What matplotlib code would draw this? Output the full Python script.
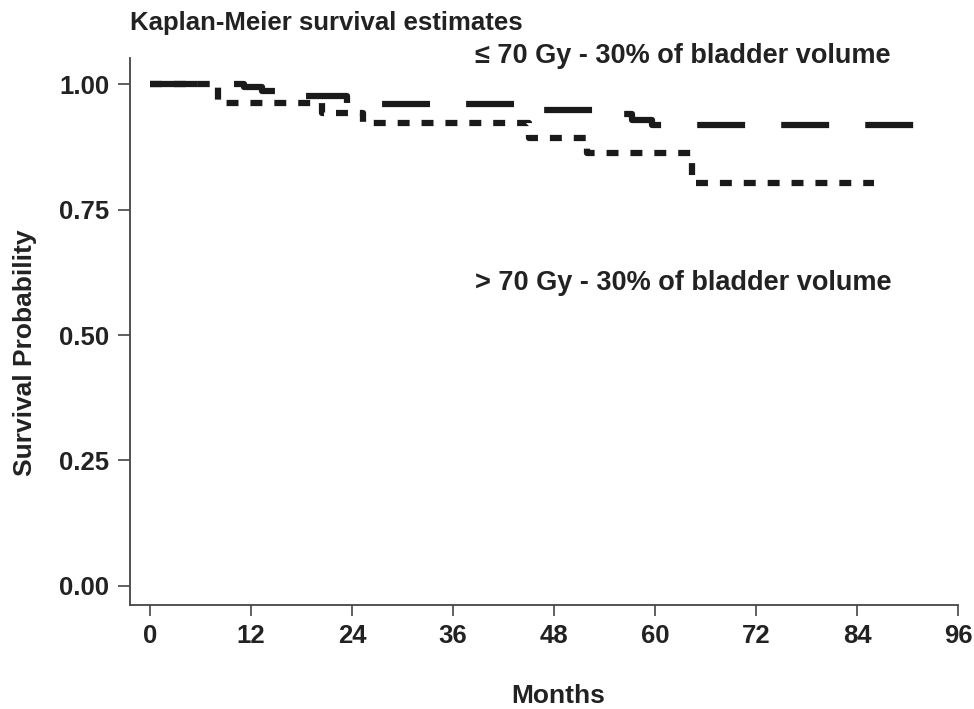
import matplotlib
matplotlib.use('Agg')
import matplotlib.pyplot as plt

# Kaplan-Meier step curves (months, survival)
low_t = [0, 11.1, 13.3, 16.0, 23.4, 45.0, 56.0, 57.3, 59.6, 91.0]
low_s = [1.0, 0.994, 0.987, 0.977, 0.960, 0.948, 0.941, 0.928, 0.918, 0.918]
high_t = [0, 8.1, 20.4, 25.3, 45.0, 51.9, 64.4, 86.0]
high_s = [1.0, 0.963, 0.942, 0.923, 0.8925, 0.863, 0.802, 0.802]

x_ticks = [0, 12, 24, 36, 48, 60, 72, 84, 96]
y_ticks = [0.0, 0.25, 0.5, 0.75, 1.0]

title = 'Kaplan-Meier survival estimates'
label_low = '\u2264 70 Gy - 30% of bladder volume'
label_high = '> 70 Gy - 30% of bladder volume'

plt.rcParams['font.family'] = ['Liberation Sans', 'DejaVu Sans']
plt.rcParams['font.weight'] = 'bold'
plt.rcParams['lines.scale_dashes'] = False
txt = '#222222'

fig = plt.figure(figsize=(9.74, 7.09), dpi=100, facecolor='white')
ax = fig.add_axes([130 / 974, 1 - 605 / 709, (958 - 130) / 974, (605 - 58) / 709])

ax.plot(low_t, low_s, drawstyle='steps-post', color='#1a1a1a', lw=4.5,
        dashes=(34.5, 26), solid_capstyle='butt', dash_capstyle='butt')
ax.plot(high_t, high_s, drawstyle='steps-post', color='#1a1a1a', lw=4.5,
        dashes=(8.6, 8.6), solid_capstyle='butt', dash_capstyle='butt')

ax.set_xlim(-2.4, 96)
ax.set_ylim(-0.038, 1.052)
ax.set_xticks(x_ticks)
ax.set_yticks(y_ticks)
ax.set_xticklabels([str(v) for v in x_ticks])
ax.set_yticklabels(['%.2f' % v for v in y_ticks])
ax.tick_params(axis='y', length=9, width=1.2, pad=6, labelsize=18.5, colors='#444444', labelcolor=txt)
ax.tick_params(axis='x', length=8, width=1.2, pad=6, labelsize=18.5, colors='#444444', labelcolor=txt)
for s in ['top', 'right']:
    ax.spines[s].set_visible(False)
for s in ['left', 'bottom']:
    ax.spines[s].set_color('#444444')
    ax.spines[s].set_linewidth(1.3)

fig.text(130 / 974, 1 - 30 / 709, title, fontsize=18.5, fontweight='bold', color=txt, va='baseline')
fig.text(475 / 974, 1 - 63 / 709, label_low, fontsize=19.5, fontweight='bold', color=txt, va='baseline')
fig.text(475 / 974, 1 - 290 / 709, label_high, fontsize=19.5, fontweight='bold', color=txt, va='baseline')
fig.text(558 / 974, 1 - 703 / 709, 'Months', fontsize=19, fontweight='bold', color=txt,
         ha='center', va='baseline')
fig.text(25 / 974, 1 - 353 / 709, 'Survival Probability', fontsize=19, fontweight='bold', color=txt,
         ha='center', va='center', rotation=90)

plt.savefig('out.png', dpi=100, facecolor='white')
plt.close()
